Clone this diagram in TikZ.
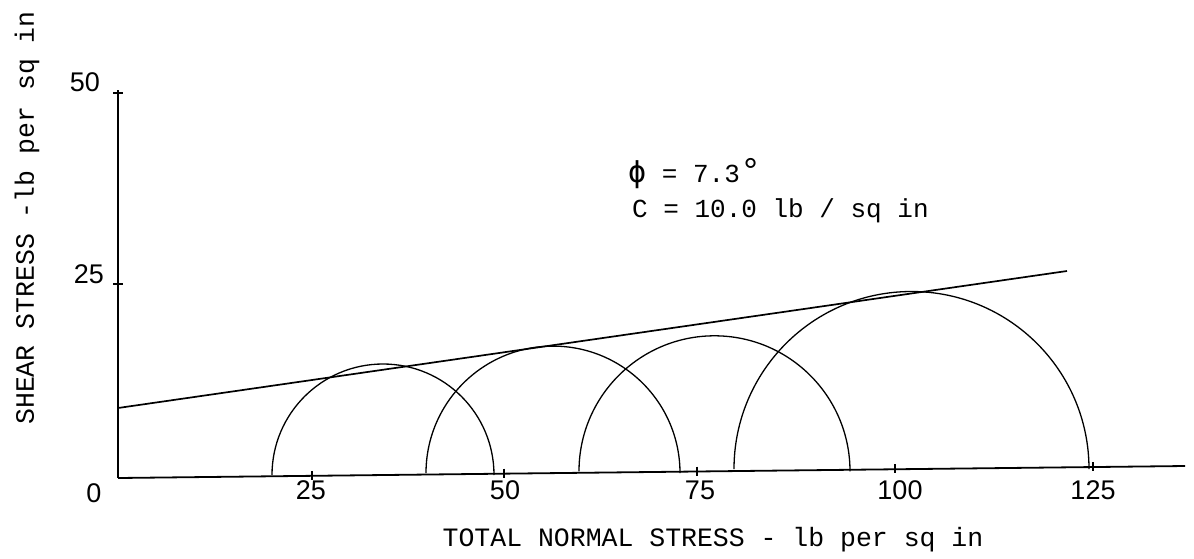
\documentclass[tikz,border=0pt]{standalone}
\usepackage{fontspec}
\setmainfont{Liberation Sans}
\setmonofont{Liberation Mono}
\newfontfamily\phifont{DejaVu Sans Mono}
\begin{document}
\begin{tikzpicture}[x=1pt,y=-1pt,
  axis/.style={line width=1.8pt},
  tickmark/.style={line width=1.3pt},
  mohr/.style={line width=1.3pt},
  envelope/.style={line width=1.7pt},
  ticklabel/.style={font=\fontsize{27}{30}\selectfont, inner sep=0pt},
  axislabel/.style={font=\ttfamily\fontsize{26.5}{30}\selectfont, inner sep=0pt},
  note/.style={font=\ttfamily\fontsize{26}{30}\selectfont, inner sep=0pt, anchor=base west}]
\useasboundingbox (0,0) rectangle (1194,558);
% axes
\coordinate (O) at (118,478);
\coordinate (Ytop) at (118,90);
\coordinate (Xend) at (1185,466);
\draw[axis] (O) -- (Ytop);
\draw[axis] (O) -- (Xend);
% y ticks
\coordinate (y50) at (118,93);
\coordinate (y25) at (118,284);
\draw[tickmark] ([xshift=-5pt]y50) -- ([xshift=5pt]y50);
\draw[tickmark] ([xshift=-5pt]y25) -- ([xshift=5pt]y25);
% x ticks
\foreach \n/\x/\b in {x25/312/475.8, x50/504/473.7, x75/697/471.5, x100/895/469.3, x125/1093/467.0}{
  \coordinate (\n) at (\x,\b);
  \draw[tickmark] ([yshift=5pt]\n) -- ([yshift=-4pt]\n);
}
% tick labels
\node[ticklabel] (l0) at (94,493) {0};
\node[ticklabel] (l25x) at (311,490) {25};
\node[ticklabel] (l50x) at (505,490) {50};
\node[ticklabel] (l75x) at (700,490) {75};
\node[ticklabel] (l100x) at (900,490) {100};
\node[ticklabel] (l125x) at (1093,490) {125};
\node[ticklabel] (l50y) at (85,82) {50};
\node[ticklabel] (l25y) at (89,274) {25};
% axis labels
\node[axislabel, rotate=90] (ylab) at (27,218) {SHEAR STRESS -lb per sq in};
\node[axislabel] (xlab) at (713,540) {TOTAL NORMAL STRESS - lb per sq in};
% Mohr circles
\coordinate (c1) at (272,475.0);
\coordinate (c2) at (426,473.1);
\coordinate (c3) at (579,471.3);
\coordinate (c4) at (734,469.0);
\draw[mohr] (c1) arc[start angle=180, end angle=360, radius=111];
\draw[mohr] (c2) arc[start angle=180, end angle=360, radius=127];
\draw[mohr] (c3) arc[start angle=180, end angle=360, radius=135.5];
\draw[mohr] (c4) arc[start angle=180, end angle=360, radius=177.5];
% failure envelope
\coordinate (e0) at (118,408);
\coordinate (e1) at (1067,271);
\draw[envelope] (e0) -- (e1);
% annotation
\node[note] (phi) at (628,182) {{\phifont\fontsize{30}{30}\selectfont ϕ} = 7.3{\fontsize{36}{36}\selectfont °}};
\node[note] (coh) at (632,217) {C = 10.0 lb / sq in};
\end{tikzpicture}
\end{document}
